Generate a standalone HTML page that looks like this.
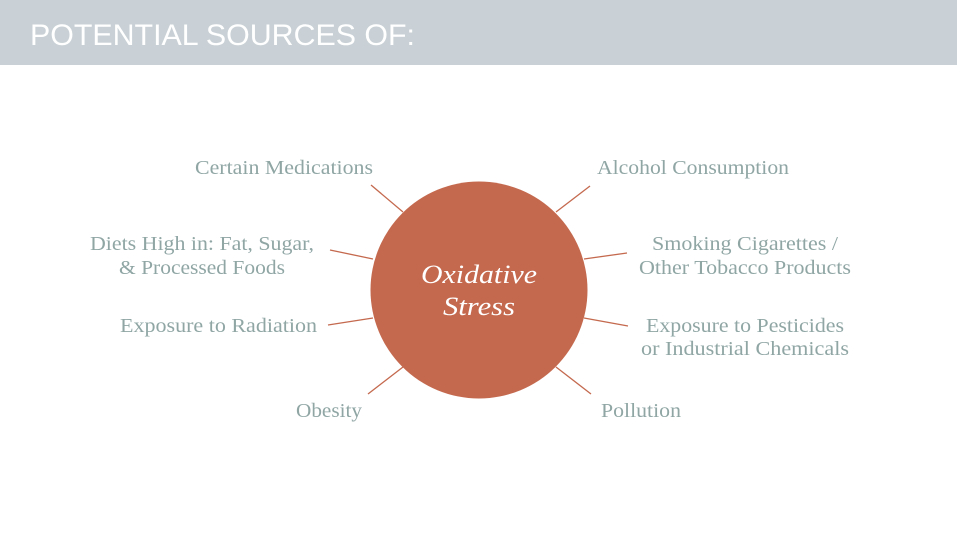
<!DOCTYPE html>
<html><head><meta charset="utf-8"><style>
html,body{margin:0;padding:0;background:#fff;width:957px;height:533px;overflow:hidden}
svg{display:block}
</style></head><body>
<svg width="957" height="533" xmlns="http://www.w3.org/2000/svg">
<rect x="0" y="0" width="957" height="65" fill="#c9d1d6"/>
<text x="30" y="45" font-family="Liberation Sans, sans-serif" font-size="30" fill="#ffffff" textLength="385" lengthAdjust="spacingAndGlyphs">POTENTIAL SOURCES OF:</text>
<g stroke="#c4694e" stroke-width="1.3">
<line x1="371" y1="185" x2="403" y2="212"/>
<line x1="556" y1="212" x2="590" y2="186"/>
<line x1="330" y1="250" x2="373" y2="259"/>
<line x1="584" y1="259" x2="627" y2="253"/>
<line x1="328" y1="325" x2="373" y2="318"/>
<line x1="584" y1="318" x2="628" y2="326"/>
<line x1="368" y1="394" x2="403" y2="367"/>
<line x1="556" y1="367" x2="591" y2="394"/>
</g>
<circle cx="479" cy="290" r="108.5" fill="#c4694e"/>
<g font-family="Liberation Serif, serif" font-style="italic" font-size="26" fill="#fff">
<text x="421" y="283" textLength="116" lengthAdjust="spacingAndGlyphs">Oxidative</text>
<text x="443" y="315" textLength="72" lengthAdjust="spacingAndGlyphs">Stress</text>
</g>
<g font-family="Liberation Serif, serif" font-size="20" fill="#8fa6a4">
<text x="195" y="174" textLength="178" lengthAdjust="spacingAndGlyphs">Certain Medications</text>
<text x="90" y="250" textLength="224" lengthAdjust="spacingAndGlyphs">Diets High in: Fat, Sugar,</text>
<text x="119" y="274" textLength="166" lengthAdjust="spacingAndGlyphs">&amp; Processed Foods</text>
<text x="120" y="332" textLength="197" lengthAdjust="spacingAndGlyphs">Exposure to Radiation</text>
<text x="296" y="417" textLength="66" lengthAdjust="spacingAndGlyphs">Obesity</text>
<text x="597" y="174" textLength="192" lengthAdjust="spacingAndGlyphs">Alcohol Consumption</text>
<text x="652" y="250" textLength="186" lengthAdjust="spacingAndGlyphs">Smoking Cigarettes /</text>
<text x="639" y="274" textLength="212" lengthAdjust="spacingAndGlyphs">Other Tobacco Products</text>
<text x="646" y="332" textLength="198" lengthAdjust="spacingAndGlyphs">Exposure to Pesticides</text>
<text x="641" y="355" textLength="208" lengthAdjust="spacingAndGlyphs">or Industrial Chemicals</text>
<text x="601" y="417" textLength="80" lengthAdjust="spacingAndGlyphs">Pollution</text>
</g>
</svg>
</body></html>
